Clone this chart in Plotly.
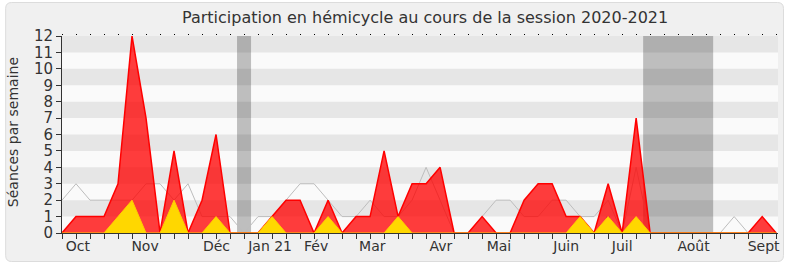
import plotly.graph_objects as go

# ---- data (weekly, session 2020-2021) ----
weeks = list(range(52))
presence = [0, 1, 1, 1, 3, 12, 7, 0, 5, 0, 2, 6, 0, 0, 0, 1, 2, 2, 0, 2,
            0, 1, 1, 5, 1, 3, 3, 4, 0, 0, 1, 0, 0, 2, 3, 3, 1, 1, 0, 3,
            0, 7, 0, 0, 0, 0, 0, 0, 0, 0, 1, 0]
interventions = [0, 0, 0, 0, 1, 2, 0, 0, 2, 0, 0, 1, 0, 0, 0, 1, 0, 0, 0, 1,
                 0, 0, 0, 0, 1, 0, 0, 0, 0, 0, 0, 0, 0, 0, 0, 0, 0, 1, 0, 1,
                 0, 1, 0, 0, 0, 0, 0, 0, 0, 0, 0, 0]
median = [2, 3, 2, 2, 2, 2, 3, 3, 2, 3, 1, 1, 1, 0, 1, 1, 2, 3, 3, 2,
          1, 1, 2, 1, 1, 2, 4, 2, 0, 0, 1, 2, 2, 1, 1, 2, 2, 1, 1, 2,
          0, 4, 0, 0, 0, 0, 0, 0, 1, 0, 0, 0]
questions_x = [39]
questions_y = [1]
vacances = [(12.5, 13.5), (41.5, 46.5)]
month_pos = [1.14, 5.93, 11.03, 14.86, 18.15, 22.16, 27.05, 31.2, 36.0, 40.0, 45.1, 50.1]
month_lbl = ["Oct", "Nov", "Déc", "Jan 21", "Fév", "Mar", "Avr", "Mai", "Juin", "Juil", "Août", "Sept"]
y_ticks = list(range(13))
X_MAX = 51.13

FONT = "DejaVu Sans"
W, H = 790, 267
L, R, T, B = 62, 10, 36, 34
pw, ph = W - L - R, H - T - B

def px2paper(x, y):
    return (x - L) / pw, (H - B - y) / ph

fig = go.Figure()
fig.add_trace(go.Scatter(x=weeks, y=median, mode="lines",
                         line=dict(color="#bdbdbd", width=1), hoverinfo="skip"))
fig.add_trace(go.Scatter(x=weeks, y=presence, mode="lines", fill="tozeroy",
                         line=dict(color="#ff0000", width=1.5),
                         fillcolor="rgba(255,0,0,0.76)"))
fig.add_trace(go.Scatter(x=weeks, y=interventions, mode="lines", fill="tozeroy",
                         line=dict(color="#ffcc00", width=1),
                         fillcolor="#ffd700"))
fig.add_trace(go.Bar(x=questions_x, y=questions_y, width=0.27,
                     marker=dict(color="#6b6bff", line=dict(width=0))))
fig.add_trace(go.Scatter(x=[0], y=[0], xaxis="x2", mode="markers",
                         marker=dict(opacity=0), hoverinfo="skip"))

shapes = []
# outer rounded frame
x0, y0 = px2paper(5.5, 2.5)
x1, y1 = px2paper(785.5, 261.5)
rx, ry = 6 / pw, 6 / ph
path = (f"M {x0+rx} {y0} L {x1-rx} {y0} Q {x1} {y0} {x1} {y0-ry} "
        f"L {x1} {y1+ry} Q {x1} {y1} {x1-rx} {y1} L {x0+rx} {y1} "
        f"Q {x0} {y1} {x0} {y1+ry} L {x0} {y0-ry} Q {x0} {y0} {x0+rx} {y0} Z")
shapes.append(dict(type="path", path=path, xref="paper", yref="paper",
                   fillcolor="#f0f0f0", line=dict(color="#dcdcdc", width=1), layer="below"))
# plot area background
shapes.append(dict(type="rect", xref="x", yref="y", x0=0, x1=X_MAX, y0=0, y1=12,
                   fillcolor="#fafafa", line=dict(width=0), layer="below"))
for a, b in vacances:
    shapes.append(dict(type="rect", xref="x", yref="y", x0=a, x1=b, y0=0, y1=12,
                       fillcolor="#bebebe", line=dict(width=0), layer="below"))
for k in range(1, 12, 2):
    shapes.append(dict(type="rect", xref="x", yref="y", x0=0, x1=X_MAX, y0=k, y1=k + 1,
                       fillcolor="rgba(0,0,0,0.08)", line=dict(width=0), layer="below"))

fig.update_layout(
    width=W, height=H, margin=dict(l=L, r=R, t=T, b=B),
    paper_bgcolor="#ffffff", plot_bgcolor="rgba(0,0,0,0)",
    showlegend=False, barmode="overlay", shapes=shapes,
    font=dict(family=FONT, color="#333333", size=14),
    xaxis=dict(range=[0, X_MAX], tickmode="array", tickvals=month_pos, ticktext=month_lbl,
               ticks="", showgrid=False, zeroline=False, showline=True,
               linecolor="#333333", linewidth=1, tickfont=dict(size=14, color="#333333"),
               minor=dict(ticks="outside", ticklen=5, tickcolor="#333333", tickwidth=1,
                          tick0=0, dtick=1, showgrid=False)),
    xaxis2=dict(overlaying="x", side="top", range=[0, X_MAX], tickmode="array",
                tickvals=weeks, ticks="outside", ticklen=1, tickwidth=1.2, tickcolor="#000000",
                showticklabels=False, showgrid=False, zeroline=False, showline=False),
    yaxis=dict(range=[0, 12], tickmode="array", tickvals=y_ticks, ticks="outside",
               ticklen=5, tickcolor="#333333", showgrid=False, zeroline=False,
               showline=True, linecolor="#333333", linewidth=1,
               tickfont=dict(size=15, color="#333333")),
    annotations=[
        dict(text="Participation en hémicycle au cours de la session 2020-2021",
             xref="paper", yref="paper", x=(426 - L) / pw, y=px2paper(0, 18)[1],
             xanchor="center", yanchor="middle", showarrow=False,
             font=dict(size=16, color="#333333", family=FONT)),
        dict(text="Séances par semaine", xref="paper", yref="paper",
             x=px2paper(12.5, 0)[0], y=px2paper(0, 132.5)[1], textangle=-90,
             xanchor="center", yanchor="middle", showarrow=False,
             font=dict(size=14, color="#333333", family=FONT)),
    ],
)

fig.write_html("out.html")
